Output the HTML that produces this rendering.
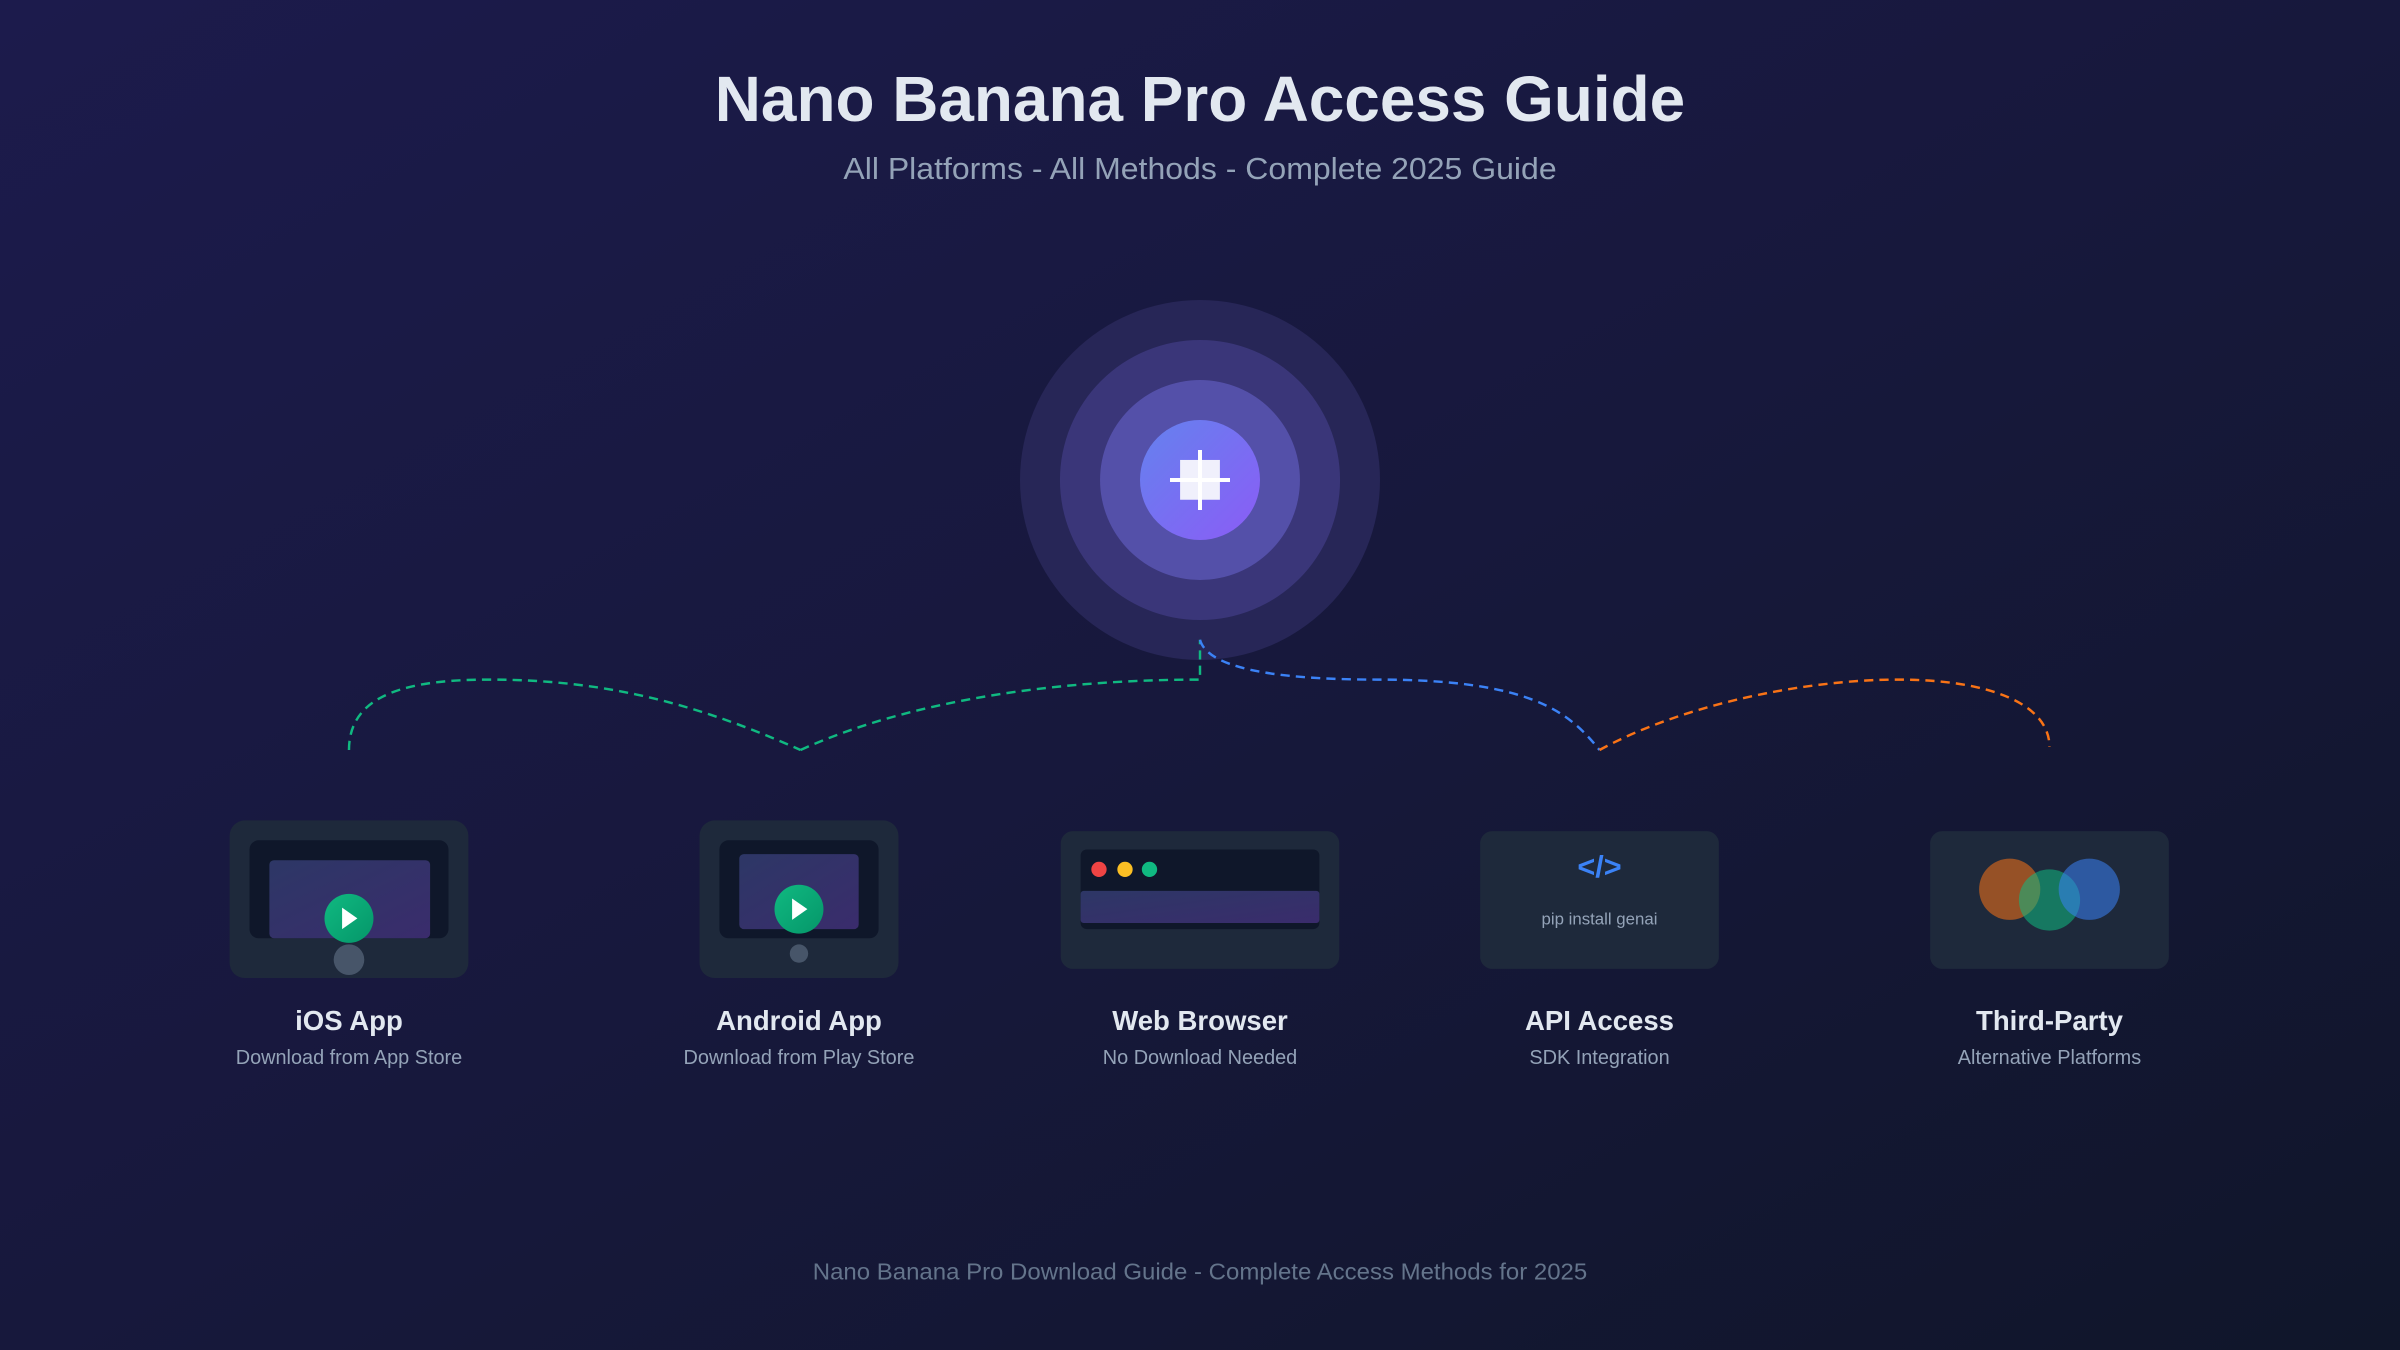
<!DOCTYPE html>
<html><head><meta charset="utf-8"><style>
html,body{margin:0;padding:0;width:2400px;height:1350px;overflow:hidden;background:#161836}
svg{display:block}
text{font-family:"Liberation Sans",Arial,sans-serif}
</style></head><body>
<svg width="2400" height="1350" viewBox="0 0 1568 882" xmlns="http://www.w3.org/2000/svg">
<defs>
<linearGradient id="bg" x1="0" y1="0" x2="1" y2="1">
<stop offset="0" stop-color="#1c1b4c"/><stop offset="0.5" stop-color="#17183c"/><stop offset="1" stop-color="#10162a"/>
</linearGradient>
<linearGradient id="core" x1="0" y1="0" x2="1" y2="1">
<stop offset="0" stop-color="#6482ee"/><stop offset="1" stop-color="#8b5cf6"/>
</linearGradient>
<linearGradient id="scr" x1="0" y1="0" x2="1" y2="1">
<stop offset="0" stop-color="#2d3766"/><stop offset="1" stop-color="#3a2c6c"/>
</linearGradient>
<linearGradient id="play" x1="0" y1="0" x2="1" y2="1">
<stop offset="0" stop-color="#10b981"/><stop offset="1" stop-color="#059669"/>
</linearGradient>
</defs>
<rect width="1568" height="882" fill="url(#bg)"/>

<text x="784" y="79" text-anchor="middle" font-size="42" font-weight="bold" fill="#e2e8f0" textLength="634" lengthAdjust="spacingAndGlyphs">Nano Banana Pro Access Guide</text>
<text x="784" y="117" text-anchor="middle" font-size="20" fill="#94a3b8" textLength="466" lengthAdjust="spacingAndGlyphs">All Platforms - All Methods - Complete 2025 Guide</text>

<circle cx="784" cy="313.6" r="117.6" fill="#272657"/>
<circle cx="784" cy="313.6" r="91.5" fill="#3a3679"/>
<circle cx="784" cy="313.6" r="65.3" fill="#5450a9"/>
<circle cx="784" cy="313.6" r="39.2" fill="url(#core)"/>
<rect x="771" y="300.5" width="26" height="26" fill="#f0f0fc"/>
<rect x="764.4" y="312.3" width="39.2" height="2.6" fill="#fff"/>
<rect x="782.7" y="294" width="2.6" height="39.2" fill="#fff"/>

<g fill="none" stroke-width="1.6" stroke-dasharray="6 4">
<path d="M228,490 C228,452 270,444 320,444 C400,444 460,462 523,490" stroke="#10b981"/>
<path d="M523,490 C600,455 700,444 784,444 L784,418" stroke="#10b981"/>
<path d="M784,418 C790,440 850,444 900,444 C1000,444 1025,465 1045,490" stroke="#3b82f6"/>
<path d="M1045,490 C1100,460 1180,444 1240,444 C1300,444 1339,460 1339,488" stroke="#f97316"/>
</g>

<!-- iOS -->
<rect x="150" y="536" width="156" height="103" rx="10" fill="#1e293b"/>
<rect x="163" y="549" width="130" height="64" rx="6" fill="#0f172a"/>
<rect x="176" y="562" width="105" height="51" rx="3" fill="url(#scr)"/>
<circle cx="228" cy="600" r="16" fill="url(#play)"/>
<path d="M223.5,593 L233.5,600 L223.5,607 Z" fill="#fff"/>
<circle cx="228" cy="627" r="10" fill="#475569"/>
<text x="228" y="673" text-anchor="middle" font-size="18" font-weight="bold" fill="#e2e8f0">iOS App</text>
<text x="228" y="695" text-anchor="middle" font-size="13" fill="#94a3b8">Download from App Store</text>

<!-- Android -->
<rect x="457" y="536" width="130" height="103" rx="10" fill="#1e293b"/>
<rect x="470" y="549" width="104" height="64" rx="6" fill="#0f172a"/>
<rect x="483" y="558" width="78" height="49" rx="3" fill="url(#scr)"/>
<circle cx="522" cy="594" r="16" fill="url(#play)"/>
<path d="M517.5,587 L527.5,594 L517.5,601 Z" fill="#fff"/>
<circle cx="522" cy="623" r="6" fill="#475569"/>
<text x="522" y="673" text-anchor="middle" font-size="18" font-weight="bold" fill="#e2e8f0">Android App</text>
<text x="522" y="695" text-anchor="middle" font-size="13" fill="#94a3b8">Download from Play Store</text>

<!-- Web -->
<rect x="693" y="543" width="182" height="90" rx="8" fill="#1e293b"/>
<rect x="706" y="555" width="156" height="52" rx="4" fill="#0f172a"/>
<circle cx="718" cy="568" r="5" fill="#ef4444"/>
<circle cx="735" cy="568" r="5" fill="#fbbf24"/>
<circle cx="751" cy="568" r="5" fill="#10b981"/>
<rect x="706" y="582" width="156" height="21" rx="2" fill="url(#scr)"/>
<text x="784" y="673" text-anchor="middle" font-size="18" font-weight="bold" fill="#e2e8f0">Web Browser</text>
<text x="784" y="695" text-anchor="middle" font-size="13" fill="#94a3b8">No Download Needed</text>

<!-- API -->
<rect x="967" y="543" width="156" height="90" rx="8" fill="#1e293b"/>
<text x="1045" y="573" text-anchor="middle" font-size="20" font-weight="bold" fill="#3b82f6">&lt;/&gt;</text>
<text x="1045" y="604" text-anchor="middle" font-size="11" fill="#94a3b8">pip install genai</text>
<text x="1045" y="673" text-anchor="middle" font-size="18" font-weight="bold" fill="#e2e8f0">API Access</text>
<text x="1045" y="695" text-anchor="middle" font-size="13" fill="#94a3b8">SDK Integration</text>

<!-- Third party -->
<rect x="1261" y="543" width="156" height="90" rx="8" fill="#1e293b"/>
<circle cx="1313" cy="581" r="20" fill="#f97316" opacity="0.55"/>
<circle cx="1339" cy="588" r="20" fill="#10b981" opacity="0.55"/>
<circle cx="1365" cy="581" r="20" fill="#3b82f6" opacity="0.55"/>
<text x="1339" y="673" text-anchor="middle" font-size="18" font-weight="bold" fill="#e2e8f0">Third-Party</text>
<text x="1339" y="695" text-anchor="middle" font-size="13" fill="#94a3b8">Alternative Platforms</text>

<text x="784" y="836" text-anchor="middle" font-size="15" fill="#64748b" textLength="506" lengthAdjust="spacingAndGlyphs">Nano Banana Pro Download Guide - Complete Access Methods for 2025</text>
</svg>
</body></html>
